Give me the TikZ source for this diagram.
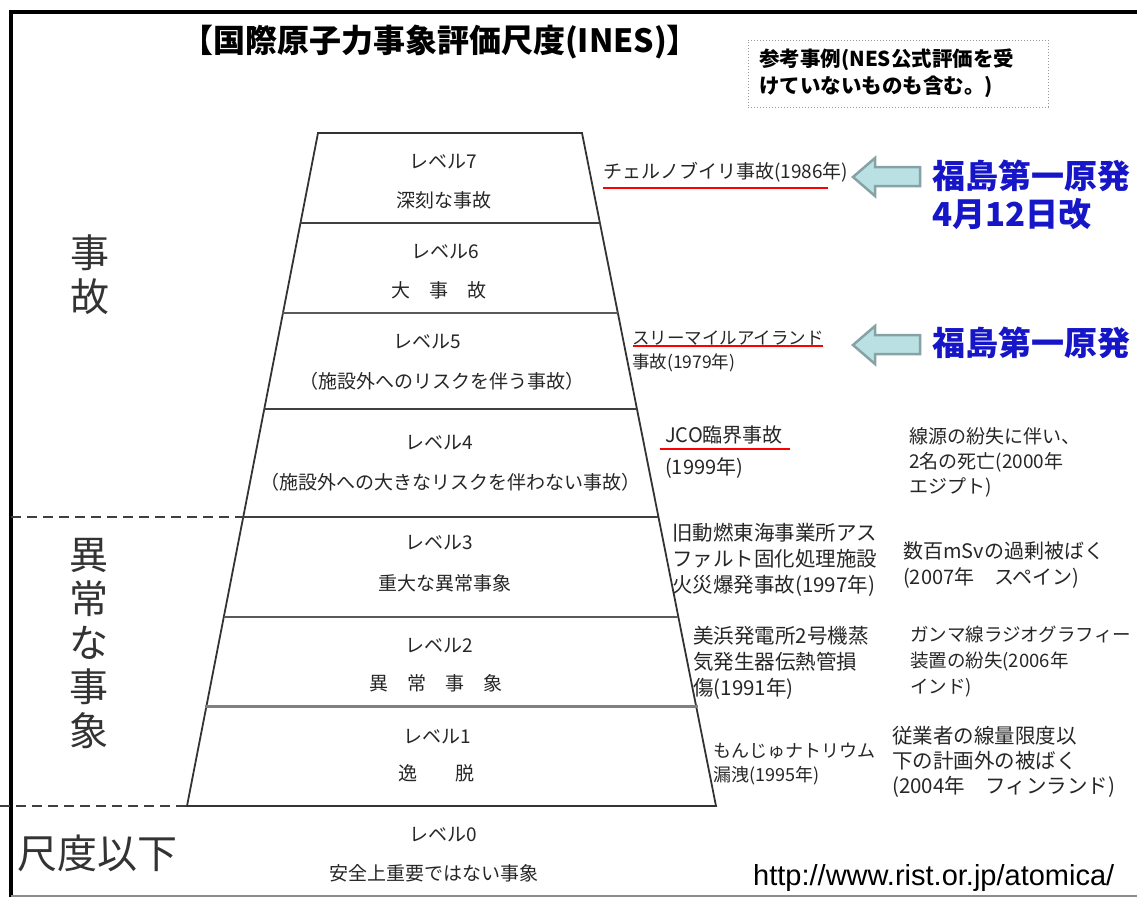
\documentclass[tikz,border=0pt]{standalone}
\usepackage{fontspec}
\newfontfamily\jp{Noto Sans CJK JP}
\newfontfamily\urlfnt{Liberation Sans}
\definecolor{arrowfill}{RGB}{185,224,227}
\definecolor{arrowedge}{RGB}{135,162,165}
\definecolor{fukublue}{RGB}{22,22,200}
\tikzset{
  frameline/.style={line width=3.5pt, draw=black},
  trap/.style={line width=1.8pt, draw=black!80},
  divider/.style={line width=2pt, draw=black!75},
  boundary/.style={line width=2.5pt, draw=black!75, dash pattern=on 10pt off 6pt},
  lvl/.style={font=\jp\fontsize{19}{19}\selectfont, inner sep=0pt, text=black!85},
  cat/.style={font=\jp\fontsize{39}{44}\selectfont, inner sep=0pt, align=center, text=black!80},
  ex/.style={inner sep=0pt, anchor=west, align=left, text=black!85},
  redline/.style={draw=red, line width=1.5pt},
  barrow/.style={fill=arrowfill, draw=arrowedge, line width=2.5pt, line join=miter},
  fuku/.style={font=\jp\bfseries\fontsize{33}{38}\selectfont, text=fukublue, inner sep=0pt, anchor=west, align=left},
}
\begin{document}
\begin{tikzpicture}[x=1pt,y=-1pt]
\useasboundingbox (0,0) rectangle (1137,897);
% frame
\coordinate (ftl) at (11,12);
\coordinate (ftr) at (1137,12);
\coordinate (fbl) at (11,897);
\coordinate (bbl) at (11,896);
\coordinate (bbr) at (1137,896);
\draw[frameline] (ftr) -- (ftl) -- (fbl);
\draw[black!45, line width=1.2pt] (bbl) -- (bbr);
% trapezoid corners
\coordinate (L0) at (318,133); \coordinate (R0) at (582,133);
\coordinate (L1) at (300,223); \coordinate (R1) at (600,223);
\coordinate (L2) at (282,313); \coordinate (R2) at (618,313);
\coordinate (L3) at (264,409); \coordinate (R3) at (637,409);
\coordinate (L4) at (243,517); \coordinate (R4) at (658,517);
\coordinate (L5) at (224,617); \coordinate (R5) at (678,617);
\coordinate (L6) at (205,706); \coordinate (R6) at (698,706);
\coordinate (L7) at (187,806); \coordinate (R7) at (716,806);
\draw[trap] (L7) -- (L0) -- (R0) -- (R7) -- cycle;
\draw[divider] (L1) -- (R1);
\draw[divider, draw=black!65] (L2) -- (R2);
\draw[divider] (L3) -- (R3);
\draw[divider] (L4) -- (R4);
\draw[divider, draw=black!65] (L5) -- (R5);
\draw[divider, draw=black!50, line width=3pt] (L6) -- (R6);
% boundaries
\coordinate (b1) at (11,517);
\coordinate (b2) at (0,806);
\draw[boundary] (b1) -- (L4);
\draw[boundary] (b2) -- (L7);
% title
\node[font=\jp\bfseries\fontsize{32}{32}\selectfont, inner sep=0pt] (title) at (440,42) {【国際原子力事象評価尺度(INES)】};
\node[draw=black!40, dotted, line width=1pt, minimum width=300pt, minimum height=67pt, inner sep=0pt] (refbox) at (898,73.5) {};
\node[font=\jp\bfseries\fontsize{20.5}{27}\selectfont, inner sep=0pt, anchor=west, align=left] (reftext) at (759,73.5) {参考事例(NES公式評価を受\\けていないものも含む。)};
% levels
\node[lvl] (l7a) at (443,162) {レベル7};
\node[lvl] (l7b) at (444,200) {深刻な事故};
\node[lvl] (l6a) at (445,252) {レベル6};
\node[lvl] (l6b) at (439,290) {大　事　故};
\node[lvl] (l5a) at (427,342) {レベル5};
\node[lvl] (l5b) at (442,381) {（施設外へのリスクを伴う事故）};
\node[lvl] (l4a) at (439,443) {レベル4};
\node[lvl] (l4b) at (450,482) {（施設外への大きなリスクを伴わない事故）};
\node[lvl] (l3a) at (439,543) {レベル3};
\node[lvl] (l3b) at (445,583) {重大な異常事象};
\node[lvl] (l2a) at (439,646) {レベル2};
\node[lvl] (l2b) at (436,683) {異　常　事　象};
\node[lvl] (l1a) at (437,737) {レベル1};
\node[lvl] (l1b) at (436,773) {逸　　脱};
\node[lvl] (l0a) at (443,835) {レベル0};
\node[lvl] (l0b) at (434,873) {安全上重要ではない事象};
% categories
\node[cat] (cacc) at (90,275) {事\\故};
\node[cat] (cinc) at (89,644) {異\\常\\な\\事\\象};
\node[cat, font=\jp\fontsize{40}{40}\selectfont, anchor=west] (cbelow) at (17,853) {尺度以下};
% examples
\node[ex, font=\jp\fontsize{19}{19}\selectfont] (chern) at (603,172) {チェルノブイリ事故(1986年)};
\draw[redline] (603,188) coordinate (u1a) -- (828,188) coordinate (u1b);
\node[ex, font=\jp\fontsize{17.5}{24}\selectfont] (tmi) at (632,351) {スリーマイルアイランド\\事故(1979年)};
\draw[redline] (633,346) coordinate (u2a) -- (823,346) coordinate (u2b);
\node[ex, font=\jp\fontsize{20}{32}\selectfont] (jco) at (665,452) {JCO臨界事故\\(1999年)};
\draw[redline] (660,449) coordinate (u3a) -- (790,449) coordinate (u3b);
\node[ex, font=\jp\fontsize{19}{25}\selectfont] (egypt) at (909,462) {線源の紛失に伴い、\\2名の死亡(2000年\\エジプト)};
\node[ex, font=\jp\fontsize{20.5}{26}\selectfont] (tokai) at (672,560) {旧動燃東海事業所アス\\ファルト固化処理施設\\火災爆発事故(1997年)};
\node[ex, font=\jp\fontsize{20}{26}\selectfont] (spain) at (903,565) {数百mSvの過剰被ばく\\(2007年　スペイン)};
\node[ex, font=\jp\fontsize{20.5}{26}\selectfont] (mihama) at (693,663) {美浜発電所2号機蒸\\気発生器伝熱管損\\傷(1991年)};
\node[ex, font=\jp\fontsize{18.5}{26}\selectfont] (india) at (910,662) {ガンマ線ラジオグラフィー\\装置の紛失(2006年\\インド)};
\node[ex, font=\jp\fontsize{18}{24}\selectfont] (monju) at (713,764) {もんじゅナトリウム\\漏洩(1995年)};
\node[ex, font=\jp\fontsize{20.5}{25}\selectfont] (finland) at (892,762) {従業者の線量限度以\\下の計画外の被ばく\\(2004年　フィンランド)};
% arrows
\draw[barrow] (920,167) coordinate (a1s) -- (875,167) -- (875,158) -- (853,177) coordinate (a1t) -- (875,196) -- (875,186) -- (920,186) -- cycle;
\draw[barrow] (920,335) coordinate (a2s) -- (875,335) -- (875,326) -- (853,345) coordinate (a2t) -- (875,364) -- (875,354) -- (920,354) -- cycle;
\node[fuku] (fk1) at (932,195) {福島第一原発\\4月12日改};
\node[fuku] (fk2) at (932,343) {福島第一原発};
% source
\node[font=\urlfnt\fontsize{29}{29}\selectfont, inner sep=0pt, anchor=base west] (src) at (753,885) {http://www.rist.or.jp/atomica/};
\end{tikzpicture}
\end{document}
